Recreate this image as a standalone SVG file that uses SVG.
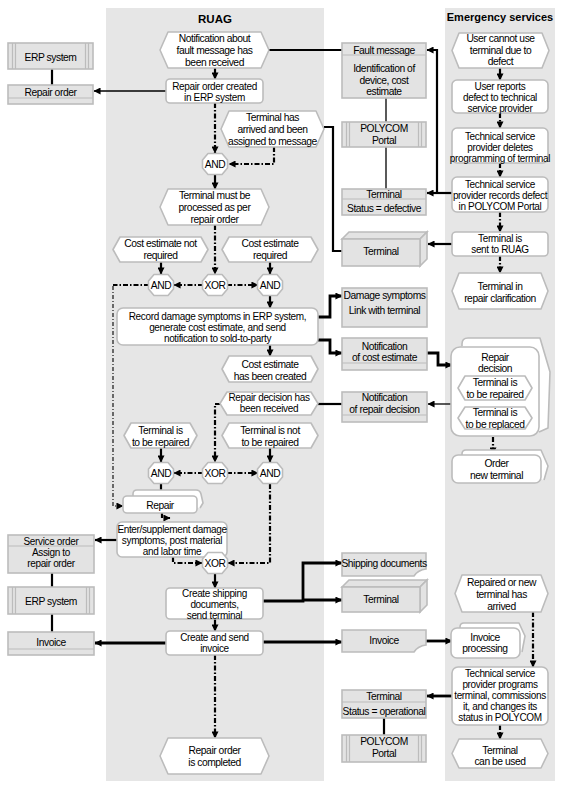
<svg xmlns="http://www.w3.org/2000/svg" width="576" height="789" viewBox="0 0 576 789">
<style>
.lane{fill:#e6e6e6}
.w{fill:#fff;stroke:#bcbcbc;stroke-width:1.6;stroke-linejoin:round}
.o{fill:#e3e3e3;stroke:#bcbcbc;stroke-width:1.6}
.d{fill:none;stroke:#bcbcbc;stroke-width:1.2}
.t{font-family:"Liberation Sans",Arial,sans-serif;font-size:10.3px;letter-spacing:-0.45px;text-anchor:middle;fill:#000}
.sm{font-size:10px;letter-spacing:-0.35px}
.h{font-family:"Liberation Sans",Arial,sans-serif;font-weight:bold;text-anchor:middle;fill:#000}
.cf{fill:none;stroke:#000;stroke-width:2.2;stroke-dasharray:5 2 1.5 2}
.cft{fill:none;stroke:#000;stroke-width:1.1;stroke-dasharray:4 2 1 2}
.s{fill:none;stroke:#000;stroke-width:2.2}
.s3{fill:none;stroke:#000;stroke-width:2.8}
.s1{fill:none;stroke:#000;stroke-width:1.3}
</style>
<defs>
<marker id="a" viewBox="0 0 8 8" refX="7.5" refY="4" markerWidth="8" markerHeight="7" orient="auto" markerUnits="userSpaceOnUse"><path d="M0,0 L8,4 L0,8 z" fill="#000"/></marker>
</defs>
<rect width="576" height="789" fill="#fff"/>
<g id="lanes">
<rect class="lane" x="106" y="8" width="218" height="773"/>
<rect class="lane" x="445" y="8" width="110" height="773"/>
<text class="h" x="215" y="23" font-size="11.5px">RUAG</text>
<text class="h" x="500" y="21" font-size="11px">Emergency services</text>
</g>

<g id="connectors">
<path class="s" d="M215,68 V79" marker-end="url(#a)"/>
<path class="cf" d="M215,103 V153" marker-end="url(#a)"/>
<path class="cf" d="M274,147 V164 H229" marker-end="url(#a)"/>
<path class="s" d="M215,175 V189" marker-end="url(#a)"/>
<path class="cf" d="M215,225 V274" marker-end="url(#a)"/>
<path class="s" d="M161,262 V274" marker-end="url(#a)"/>
<path class="s" d="M270,262 V274" marker-end="url(#a)"/>
<path class="cf" d="M203,285 H174" marker-end="url(#a)"/>
<path class="cf" d="M227,285 H258" marker-end="url(#a)"/>
<path class="s" d="M270,296 V308" marker-end="url(#a)"/>
<path class="cf" d="M149,285 H113"/>
<path class="cft" d="M113,286 V506 H123" marker-end="url(#a)"/>
<path class="s" d="M270,345 V356" marker-end="url(#a)"/>
<path class="cf" d="M220,404 H215 V462" marker-end="url(#a)"/>
<path class="s" d="M161,448 V462" marker-end="url(#a)"/>
<path class="s" d="M270,448 V462" marker-end="url(#a)"/>
<path class="cf" d="M203,473 H174" marker-end="url(#a)"/>
<path class="cf" d="M227,473 H258" marker-end="url(#a)"/>
<path class="s" d="M161,484 V497" marker-end="url(#a)"/>
<path class="cf" d="M162,513 V518 H170" marker-end="url(#a)"/>
<path class="cf" d="M270,484 V563 H228" marker-end="url(#a)"/>
<path class="cf" d="M173,557 V563 H202" marker-end="url(#a)"/>
<path class="s" d="M215,574 V588" marker-end="url(#a)"/>
<path class="s" d="M215,619 V631" marker-end="url(#a)"/>
<path class="cf" d="M215,655 V738" marker-end="url(#a)"/>
<path class="s" d="M500,68 V80" marker-end="url(#a)"/>
<path class="cf" d="M500,113 V128" marker-end="url(#a)"/>
<path class="cf" d="M500,163 V177" marker-end="url(#a)"/>
<path class="cf" d="M500,212 V232" marker-end="url(#a)"/>
<path class="cf" d="M500,256 V273" marker-end="url(#a)"/>
<path class="cf" d="M493,437 V454" marker-end="url(#a)"/>
<path class="cf" d="M533,612 V667" marker-end="url(#a)"/>
<path class="cf" d="M500,725 V739" marker-end="url(#a)"/>
<path class="s1" d="M166,91 H94" marker-end="url(#a)"/>
<path class="s" d="M52,69 V85"/>
<path class="s" d="M269,50 H342"/>
<path class="s1" d="M386,98 V122"/>
<path class="s1" d="M386,147 V189"/>
<path class="s" d="M452,193 H427" marker-end="url(#a)"/>
<path class="s" d="M437,193 V50 H427" marker-end="url(#a)"/>
<path class="s" d="M324,127 H333 V251 H342"/>
<path class="s" d="M452,244 H428" marker-end="url(#a)"/>
<path class="s3" d="M318,317 H330 V296 H342" marker-end="url(#a)"/>
<path class="s3" d="M318,340 H330 V353 H342" marker-end="url(#a)"/>
<path class="s3" d="M427,353 H438 V365 H452" marker-end="url(#a)"/>
<path class="s1" d="M452,404 H428" marker-end="url(#a)"/>
<path class="s" d="M318,404 H342"/>
<path class="s" d="M117,540 H95" marker-end="url(#a)"/>
<path class="s" d="M52,573 V587"/>
<path class="s" d="M52,614 V632"/>
<path class="s3" d="M263,601 H303 V563 H342" marker-end="url(#a)"/>
<path class="s3" d="M303,600 H342" marker-end="url(#a)"/>
<path class="s3" d="M166,643 H95" marker-end="url(#a)"/>
<path class="s3" d="M263,642 H342" marker-end="url(#a)"/>
<path class="s3" d="M426,641 H452" marker-end="url(#a)"/>
<path class="s3" d="M452,696 H427" marker-end="url(#a)"/>
<path class="s" d="M384,718 V735"/>
</g>

<g id="ev_notification">
<polygon class="w" points="160,50 168,32 261,32 269,50 261,68 168,68"/>
<text class="t" x="214.5" y="41.5">Notification about<tspan x="214.5" y="53.5">fault message has</tspan><tspan x="214.5" y="65.5">been received</tspan></text>
</g>
<g id="fn_repair_order_created">
<rect class="w" x="166" y="79" width="97" height="24" rx="4"/>
<text class="t sm" x="214.5" y="89.5">Repair order created<tspan x="214.5" y="100.5">in ERP system</tspan></text>
</g>
<g id="ev_terminal_arrived">
<polygon class="w" points="221,129 229,111 316,111 324,129 316,147 229,147"/>
<text class="t" x="272.5" y="121">Terminal has<tspan x="272.5" y="133">arrived and been</tspan><tspan x="272.5" y="145">assigned to message</tspan></text>
</g>
<g id="and1">
<polygon class="w" points="202.5,160 208,153.5 222,153.5 227.5,160 227.5,168 222,174.5 208,174.5 202.5,168"/>
<text class="t" x="215" y="168">AND</text>
</g>
<g id="ev_must_be_processed">
<polygon class="w" points="160,207 168,189 261,189 269,207 261,225 168,225"/>
<text class="t" x="214.5" y="199">Terminal must be<tspan x="214.5" y="211">processed as per</tspan><tspan x="214.5" y="223">repair order</tspan></text>
</g>
<g id="ev_ce_not_required">
<polygon class="w" points="113,249.5 120,237 201,237 208,249.5 201,262 120,262"/>
<text class="t" x="160.5" y="247">Cost estimate not<tspan x="160.5" y="259">required</tspan></text>
</g>
<g id="ev_ce_required">
<polygon class="w" points="222,249.5 229,237 311,237 318,249.5 311,262 229,262"/>
<text class="t" x="270" y="247">Cost estimate<tspan x="270" y="259">required</tspan></text>
</g>
<g id="and2">
<polygon class="w" points="148.5,281 154,274.5 168,274.5 173.5,281 173.5,289 168,295.5 154,295.5 148.5,289"/>
<text class="t" x="161" y="289">AND</text>
</g>
<g id="xor1">
<polygon class="w" points="202.5,281 208,274.5 222,274.5 227.5,281 227.5,289 222,295.5 208,295.5 202.5,289"/>
<text class="t" x="215" y="289">XOR</text>
</g>
<g id="and3">
<polygon class="w" points="257.5,281 263,274.5 277,274.5 282.5,281 282.5,289 277,295.5 263,295.5 257.5,289"/>
<text class="t" x="270" y="289">AND</text>
</g>
<g id="fn_record_damage">
<rect class="w" x="117" y="308" width="201" height="37" rx="6"/>
<text class="t sm" x="217.5" y="320">Record damage symptoms in ERP system,<tspan x="217.5" y="331">generate cost estimate, and send</tspan><tspan x="217.5" y="342">notification to sold-to-party</tspan></text>
</g>
<g id="ev_ce_created">
<polygon class="w" points="222,369 229,356 311,356 318,369 311,382 229,382"/>
<text class="t" x="270" y="368">Cost estimate<tspan x="270" y="380">has been created</tspan></text>
</g>
<g id="ev_decision_received">
<polygon class="w" points="220,403.5 227,392 311,392 318,403.5 311,415 227,415"/>
<text class="t sm" x="269" y="401">Repair decision has<tspan x="269" y="412">been received</tspan></text>
</g>
<g id="ev_to_be_repaired">
<polygon class="w" points="124,435.5 131,423 190,423 197,435.5 190,448 131,448"/>
<text class="t" x="160.5" y="434">Terminal is<tspan x="160.5" y="446">to be repaired</tspan></text>
</g>
<g id="ev_not_to_be_repaired">
<polygon class="w" points="222,435.5 229,423 311,423 318,435.5 311,448 229,448"/>
<text class="t" x="270" y="434">Terminal is not<tspan x="270" y="446">to be repaired</tspan></text>
</g>
<g id="and4">
<polygon class="w" points="148.5,469 154,462.5 168,462.5 173.5,469 173.5,477 168,483.5 154,483.5 148.5,477"/>
<text class="t" x="161" y="477">AND</text>
</g>
<g id="xor2">
<polygon class="w" points="202.5,469 208,462.5 222,462.5 227.5,469 227.5,477 222,483.5 208,483.5 202.5,477"/>
<text class="t" x="215" y="477">XOR</text>
</g>
<g id="and5">
<polygon class="w" points="257.5,469 263,462.5 277,462.5 282.5,469 282.5,477 277,483.5 263,483.5 257.5,477"/>
<text class="t" x="270" y="477">AND</text>
</g>
<g id="pi_repair">
<path class="w" d="M133,496 V494 Q133,490 137,490 H196 Q200,490 201,494 L203,503 L200,508"/>
<rect class="w" x="123" y="496" width="74" height="17" rx="4"/>
<text class="t" x="160" y="508.5">Repair</text>
</g>
<g id="fn_enter_supplement">
<rect class="w" x="117" y="522" width="110" height="35" rx="5"/>
<text class="t sm" x="172" y="532.5">Enter/supplement  damage<tspan x="172" y="543.5">symptoms, post material</tspan><tspan x="172" y="554.5">and labor time</tspan></text>
</g>
<g id="xor3">
<polygon class="w" points="202.5,559 208,552.5 222,552.5 227.5,559 227.5,567 222,573.5 208,573.5 202.5,567"/>
<text class="t" x="215" y="567">XOR</text>
</g>
<g id="fn_create_shipping">
<rect class="w" x="166" y="588" width="97" height="31" rx="4"/>
<text class="t sm" x="214.5" y="596.5">Create shipping<tspan x="214.5" y="607.5">documents,</tspan><tspan x="214.5" y="618.5">send terminal</tspan></text>
</g>
<g id="fn_create_invoice">
<rect class="w" x="166" y="631" width="97" height="24" rx="4"/>
<text class="t sm" x="214.5" y="640.5">Create and send<tspan x="214.5" y="651.5">invoice</tspan></text>
</g>
<g id="ev_completed">
<polygon class="w" points="160,756 168,738 261,738 269,756 261,774 168,774"/>
<text class="t" x="214.5" y="753.5">Repair order<tspan x="214.5" y="765.5">is completed</tspan></text>
</g>

<g id="sys_erp1">
<rect class="o" x="8" y="43" width="85" height="26"/>
<path class="d" d="M12.5,43 V69 M15.5,43 V69 M85.5,43 V69 M88.5,43 V69"/>
<text class="t" x="50.5" y="60.5">ERP system</text>
</g>
<g id="obj_repair_order">
<rect class="o" x="8" y="85" width="85" height="19"/>
<path class="d" d="M8,98 H93"/>
<text class="t" x="50.5" y="95.5">Repair order</text>
</g>
<g id="obj_service_order">
<rect class="o" x="8" y="535" width="86" height="38"/>
<path class="d" d="M8,546 H94"/>
<text class="t sm" x="51" y="544.5">Service order<tspan x="51" y="556">Assign to</tspan><tspan x="51" y="567">repair order</tspan></text>
</g>
<g id="sys_erp2">
<rect class="o" x="8" y="587" width="86" height="27"/>
<path class="d" d="M12.5,587 V614 M15.5,587 V614 M86.5,587 V614 M89.5,587 V614"/>
<text class="t" x="51" y="604.5">ERP system</text>
</g>
<g id="obj_invoice_left">
<rect class="o" x="8" y="632" width="86" height="23"/>
<path class="d" d="M8,649 H94"/>
<text class="t" x="51" y="646">Invoice</text>
</g>

<g id="obj_fault_message">
<rect class="o" x="342" y="43" width="84" height="55"/>
<path class="d" d="M342,55 H426"/>
<text class="t" x="384" y="53.5">Fault message<tspan x="384" y="71.5">Identification of</tspan><tspan x="384" y="83.5">device, cost</tspan><tspan x="384" y="95">estimate</tspan></text>
</g>
<g id="sys_polycom1">
<rect class="o" x="342" y="122" width="84" height="25"/>
<path class="d" d="M346.5,122 V147 M349.5,122 V147 M418.5,122 V147 M421.5,122 V147"/>
<text class="t" x="384" y="132">POLYCOM<tspan x="384" y="144">Portal</tspan></text>
</g>
<g id="obj_terminal_defective">
<rect class="o" x="342" y="189" width="84" height="26"/>
<path class="d" d="M342,199 H426"/>
<text class="t" x="384" y="197.5">Terminal<tspan x="384" y="212">Status = defective</tspan></text>
</g>
<g id="mat_terminal1">
<polygon class="o" points="342,239 349,232 427,232 420,239"/>
<polygon class="o" points="420,239 427,232 427,259 420,266"/>
<rect class="o" x="342" y="239" width="78" height="27"/>
<text class="t" x="381" y="255">Terminal</text>
</g>
<g id="obj_damage_symptoms">
<rect class="o" x="342" y="288" width="85" height="39"/>
<text class="t" x="384.5" y="298.5">Damage symptoms<tspan x="384.5" y="313.5">Link with terminal</tspan></text>
</g>
<g id="obj_notif_cost">
<rect class="o" x="342" y="338" width="85" height="32"/>
<path class="d" d="M342,363 H427"/>
<text class="t" x="384.5" y="349.5">Notification<tspan x="384.5" y="361">of cost estimate</tspan></text>
</g>
<g id="obj_notif_decision">
<rect class="o" x="342" y="392" width="85" height="30"/>
<path class="d" d="M342,415 H427"/>
<text class="t" x="384.5" y="400.5">Notification<tspan x="384.5" y="412.5">of repair decision</tspan></text>
</g>
<g id="doc_shipping">
<path class="o" d="M342,553 H426 V569 Q418,570 414,576 H342 Z"/>
<text class="t" x="384" y="566.5">Shipping documents</text>
</g>
<g id="mat_terminal2">
<polygon class="o" points="342,587 349,580 427,580 420,587"/>
<polygon class="o" points="420,587 427,580 427,605 420,612"/>
<rect class="o" x="342" y="587" width="78" height="25"/>
<text class="t" x="381" y="602.5">Terminal</text>
</g>
<g id="doc_invoice">
<path class="o" d="M342,630 H426 V645 Q418,646 414,652 H342 Z"/>
<text class="t" x="384" y="643.5">Invoice</text>
</g>
<g id="obj_terminal_operational">
<rect class="o" x="342" y="690" width="84" height="28"/>
<path class="d" d="M342,702 H426"/>
<text class="t" x="384" y="700">Terminal<tspan x="384" y="714.5">Status = operational</tspan></text>
</g>
<g id="sys_polycom2">
<rect class="o" x="342" y="735" width="84" height="27"/>
<path class="d" d="M346.5,735 V762 M349.5,735 V762 M418.5,735 V762 M421.5,735 V762"/>
<text class="t" x="384" y="744.5">POLYCOM<tspan x="384" y="756.5">Portal</tspan></text>
</g>

<g id="ev_user_cannot">
<polygon class="w" points="452,50.5 459,33 542,33 549,50.5 542,68 459,68"/>
<text class="t" x="500.5" y="42">User cannot use<tspan x="500.5" y="53.5">terminal due to</tspan><tspan x="500.5" y="65">defect</tspan></text>
</g>
<g id="fn_user_reports">
<rect class="w" x="452" y="80" width="96" height="33" rx="5"/>
<text class="t sm" x="500" y="89.5">User reports<tspan x="500" y="100.5">defect to technical</tspan><tspan x="500" y="111.5">service provider</tspan></text>
</g>
<g id="fn_deletes">
<rect class="w" x="452" y="128" width="96" height="35" rx="5"/>
<text class="t sm" x="500" y="139.5">Technical service<tspan x="500" y="150.5">provider deletes</tspan><tspan x="500" y="161.5">programming of terminal</tspan></text>
</g>
<g id="fn_records">
<rect class="w" x="452" y="177" width="96" height="35" rx="5"/>
<text class="t sm" x="500" y="187.5">Technical service<tspan x="500" y="198.5">provider records defect</tspan><tspan x="500" y="209.5">in POLYCOM Portal</tspan></text>
</g>
<g id="fn_sent">
<rect class="w" x="452" y="232" width="96" height="24" rx="4"/>
<text class="t sm" x="500" y="241.5">Terminal is<tspan x="500" y="252.5">sent to RUAG</tspan></text>
</g>
<g id="ev_clarification">
<polygon class="w" points="452,291 459,273 541,273 548,291 541,309 459,309"/>
<text class="t" x="500" y="289.5">Terminal in<tspan x="500" y="301.5">repair clarification</tspan></text>
</g>
<g id="pi_repair_decision">
<path class="w" d="M462,346 V344 Q462,338 468,338 H540 L550,372 L548,428 L539,432"/>
<rect class="w" x="451" y="347" width="88" height="89" rx="9"/>
<text class="t" x="495" y="360.5">Repair<tspan x="495" y="372">decision</tspan></text>
<polygon class="w" points="458,388 465,376 525,376 532,388 525,400 465,400"/>
<text class="t" x="495" y="385.5">Terminal is<tspan x="495" y="397.5">to be repaired</tspan></text>
<polygon class="w" points="458,418 465,407 525,407 532,418 525,429 465,429"/>
<text class="t" x="495" y="415.5">Terminal is<tspan x="495" y="427.5">to be replaced</tspan></text>
</g>
<g id="pi_order_new">
<path class="w" d="M462,455 V454 Q462,450 466,450 H541 L548,466 L544,480"/>
<rect class="w" x="452" y="455" width="89" height="28" rx="6"/>
<text class="t" x="496.5" y="467">Order<tspan x="496.5" y="479">new terminal</tspan></text>
</g>
<g id="ev_repaired_arrived">
<polygon class="w" points="455,593.5 462,575 541,575 548,593.5 541,612 462,612"/>
<text class="t" x="501.5" y="585.5">Repaired or new<tspan x="501.5" y="597.5">terminal has</tspan><tspan x="501.5" y="609.5">arrived</tspan></text>
</g>
<g id="pi_invoice_processing">
<path class="w" d="M460,628 V627 Q460,623 464,623 H519 L525,636 L522,652"/>
<rect class="w" x="451" y="628" width="69" height="30" rx="6"/>
<text class="t" x="485" y="640.5">Invoice<tspan x="485" y="652">processing</tspan></text>
</g>
<g id="fn_programs">
<rect class="w" x="452" y="667" width="96" height="58" rx="6"/>
<text class="t sm" x="500" y="677">Technical service<tspan x="500" y="688">provider programs</tspan><tspan x="500" y="699">terminal, commissions</tspan><tspan x="500" y="710">it, and changes its</tspan><tspan x="500" y="721">status in POLYCOM</tspan></text>
</g>
<g id="ev_can_be_used">
<polygon class="w" points="452,753.5 459,739 541,739 548,753.5 541,768 459,768"/>
<text class="t" x="500" y="753.5">Terminal<tspan x="500" y="765">can be used</tspan></text>
</g>
</svg>
